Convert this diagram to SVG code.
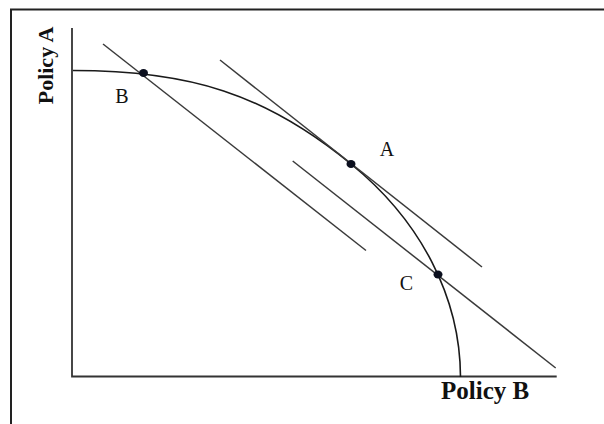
<svg xmlns="http://www.w3.org/2000/svg" width="604" height="424" viewBox="0 0 604 424">
<style>
.frame{fill:none;stroke:#222;stroke-width:2}
.axis{fill:none;stroke:#333;stroke-width:1.8}
.line{fill:none;stroke:#3a3a3a;stroke-width:1.5}
.curve{fill:none;stroke:#1a1a1a;stroke-width:1.6}
.dot{fill:#0b0f1e}
.lbl{font-family:"Liberation Serif","Times New Roman",serif;font-size:20px;fill:#111}
.ax{font-family:"Liberation Serif","Times New Roman",serif;font-weight:bold;fill:#111}
</style>
<rect width="604" height="424" fill="#fff"/>
<path class="frame" d="M11,430 V9.5 H610"/>
<g id="axes">
<path class="axis" d="M72,28 V376.5 H556.7"/>
<text class="ax" font-size="25" x="441" y="399">Policy B</text>
<text class="ax" font-size="22" text-anchor="middle" transform="translate(52.5,65.5) rotate(-90)">Policy A</text>
</g>
<g id="connectors">
<path class="curve" d="M73,70.5 C190,70.5 265,93.7 351,164 A387,306.5 0 0 1 460.5,377"/>
<line class="line" x1="103" y1="44" x2="366" y2="250.5"/>
<line class="line" x1="220" y1="60" x2="482" y2="267"/>
<line class="line" x1="292.7" y1="161" x2="555.7" y2="368"/>
</g>
<g id="pointB">
<ellipse class="dot" cx="143.5" cy="73" rx="4.5" ry="4"/>
<text class="lbl" x="122" y="102.5" text-anchor="middle">B</text>
</g>
<g id="pointA">
<ellipse class="dot" cx="351" cy="164" rx="4.5" ry="4"/>
<text class="lbl" x="387" y="156" text-anchor="middle">A</text>
</g>
<g id="pointC">
<ellipse class="dot" cx="438" cy="274.5" rx="4.5" ry="4"/>
<text class="lbl" x="406.5" y="290" text-anchor="middle">C</text>
</g>
</svg>
